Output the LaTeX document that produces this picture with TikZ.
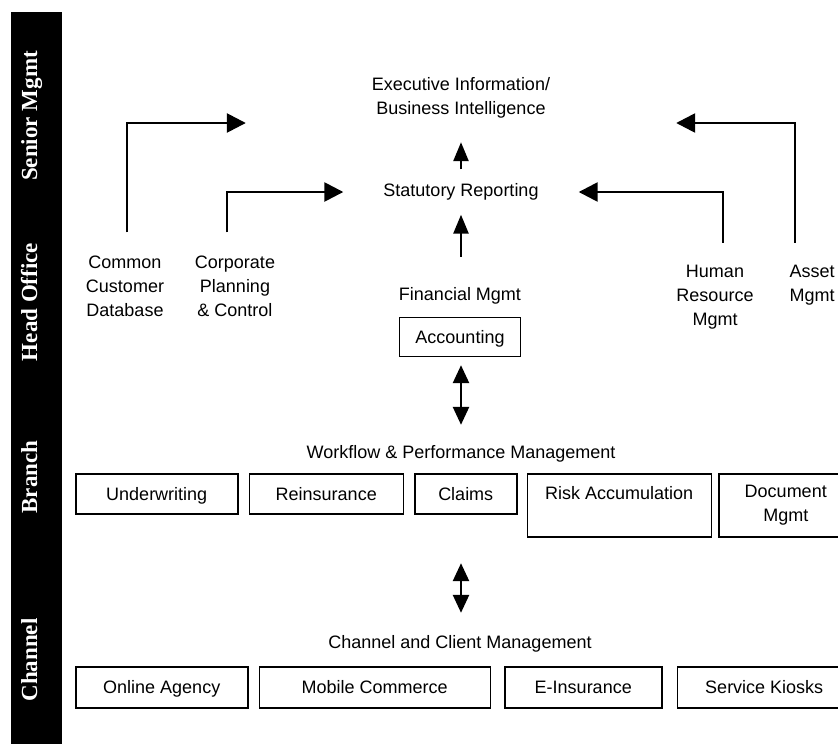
\documentclass[tikz,border=0pt]{standalone}
\usepackage{fontspec}
\setmainfont{Liberation Sans}
\newfontfamily\lanefont{Liberation Serif}
\usetikzlibrary{arrows.meta,positioning}

\begin{document}
\begin{tikzpicture}[
  x=1pt, y=-1pt,
  font=\fontsize{18}{24}\selectfont,
  txt/.style={align=center, inner sep=0pt},
  tallbox/.style={draw, line width=1.5pt, minimum height=63pt, inner sep=0pt, align=center},
  box/.style={tallbox, minimum height=40pt, text height=15pt, text depth=2pt},
  grp/.style={draw=none, inner sep=0pt},
  lane/.style={rotate=90, anchor=base, text=white, inner sep=0pt, font=\lanefont\bfseries\fontsize{23}{27}\selectfont},
  arr/.style={-{Triangle[length=19pt, width=19pt]}, line width=2.6pt},
  uparr/.style={-{Triangle[length=19pt, width=15pt]}, line width=2.6pt},
  dbl/.style={{Triangle[length=18pt, width=16pt]}-{Triangle[length=18pt, width=16pt]}, line width=2.6pt},
]
\useasboundingbox (0,0) rectangle (838,744);
\clip (0,0) rectangle (838,744);
\fill[white] (0,0) rectangle (838,744);

% lanes
\fill (11,12) rectangle (62,744);
\node[lane] (senior) at (37,116) {Senior Mgmt};
\node[lane] (head) at (37,302) {Head Office};
\node[lane] (branch) at (37,477) {Branch};
\node[lane] (channel) at (37,660) {Channel};

% senior mgmt and head office
\node[txt, minimum width=430pt, minimum height=88pt] (exec) at (461,98) {Executive Information/\\Business Intelligence};
\node[txt, minimum width=235pt, minimum height=45pt] (stat) at (461,192) {Statutory Reporting};
\node[txt, inner ysep=23pt] (ccd) at (125,286) {Common\\Customer\\Database};
\node[txt, inner ysep=23pt] (cpc) at (235,286) {Corporate\\Planning\\\& Control};
\node[txt, inner ysep=22pt] (hr) at (715,297) {Human\\Resource\\Mgmt};
\node[txt, inner ysep=22pt] (asset) at (812,285) {Asset\\Mgmt};
\node[txt] (fin) at (460,296) {Financial Mgmt};
\node[box, minimum width=121pt, minimum height=39pt, below=12pt of fin] (acct) {Accounting};
\node[grp, minimum width=183pt, minimum height=108pt] (fingrp) at (461,311) {};

% branch
\node[txt] (wf) at (461,454) {Workflow \& Performance Management};
\node[box, minimum width=162pt, anchor=north west] (under) at (75,473) {Underwriting};
\node[box, minimum width=154pt, right=10pt of under.north east, anchor=north west] (reins) {Reinsurance};
\node[box, minimum width=102pt, right=10pt of reins.north east, anchor=north west] (claims) {Claims};
\node[tallbox, minimum width=184pt, right=9pt of claims.north east, anchor=north west] (risk) {Risk Accumulation\\~};
\node[tallbox, minimum width=134pt, right=6pt of risk.north east, anchor=north west] (doc) {Document\\Mgmt};
\node[grp, minimum width=790pt, minimum height=138pt] (brgrp) at (461,494) {};

% channel
\node[txt] (ccm) at (460,644) {Channel and Client Management};
\node[box, minimum width=172pt, minimum height=41pt, anchor=north west] (online) at (75,666) {Online Agency};
\node[box, minimum width=231pt, minimum height=41pt, right=10pt of online.north east, anchor=north west] (mobile) {Mobile Commerce};
\node[box, minimum width=157pt, minimum height=41pt, right=13pt of mobile.north east, anchor=north west] (einsur) {E-Insurance};
\node[box, minimum width=174pt, minimum height=41pt, right=14pt of einsur.north east, anchor=north west] (kiosk) {Service Kiosks};
\node[grp, minimum width=790pt, minimum height=120pt] (chgrp) at (461,673) {};

\draw[uparr] (stat.north) -- (exec.south);
\draw[uparr] (fingrp.north) -- (stat.south);
\draw[arr] ([xshift=2pt]ccd.north) |- ([yshift=-25pt]exec.west);
\draw[arr] ([xshift=-8pt]cpc.north) |- (stat.west);
\draw[arr] ([xshift=8pt]hr.north) |- (stat.east);
\draw[arr] ([xshift=-17pt]asset.north) |- ([yshift=-25pt]exec.east);
\draw[dbl] (fingrp.south) -- (brgrp.north);
\draw[dbl] (brgrp.south) -- (chgrp.north);
\end{tikzpicture}
\end{document}
